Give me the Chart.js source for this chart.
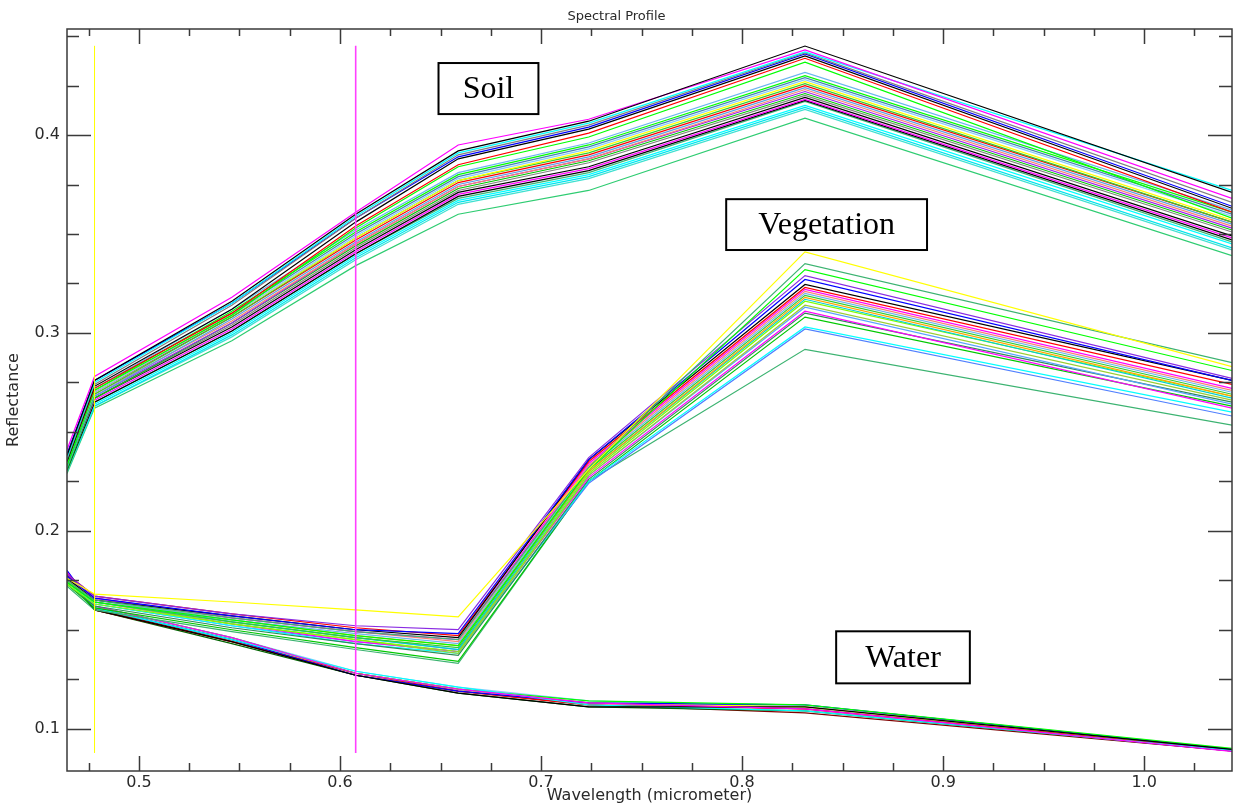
<!DOCTYPE html>
<html>
<head>
<meta charset="utf-8">
<title>Spectral Profile</title>
<script src="https://cdn.jsdelivr.net/npm/chart.js@4.4.0/dist/chart.umd.min.js"></script>
<style>
  html, body { margin: 0; padding: 0; background: #fff; }
  #wrap { position: relative; width: 1233px; height: 807px; }
</style>
</head>
<body>
<div id="wrap"><canvas id="profileChart"></canvas></div>
<script>
// band centres (micrometer)
const wavelengths = [0.4642, 0.4779, 0.5462, 0.6078, 0.6588, 0.7237, 0.8313, 1.0437];

// reflectance per pixel, one row per sampled pixel
const soilSpectra = [
  [0.238, 0.276, 0.316, 0.360, 0.392, 0.407, 0.445, 0.371],
  [0.241, 0.278, 0.318, 0.361, 0.395, 0.408, 0.443, 0.368],
  [0.237, 0.275, 0.315, 0.359, 0.391, 0.406, 0.442, 0.372],
  [0.236, 0.274, 0.314, 0.358, 0.390, 0.405, 0.4415, 0.366],
  [0.239, 0.276, 0.315, 0.358, 0.389, 0.404, 0.441, 0.364],
  [0.235, 0.273, 0.312, 0.356, 0.388, 0.403, 0.440, 0.363],
  [0.236, 0.272, 0.310, 0.354, 0.385, 0.401, 0.4388, 0.361],
  [0.233, 0.271, 0.309, 0.353, 0.384, 0.399, 0.4368, 0.358],
  [0.236, 0.272, 0.312, 0.352, 0.381, 0.396, 0.4317, 0.362],
  [0.235, 0.271, 0.311, 0.351, 0.380, 0.395, 0.430, 0.361],
  [0.237, 0.272, 0.310, 0.350, 0.379, 0.394, 0.429, 0.360],
  [0.234, 0.270, 0.309, 0.349, 0.378, 0.393, 0.428, 0.359],
  [0.236, 0.271, 0.309, 0.348, 0.377, 0.392, 0.427, 0.357],
  [0.233, 0.269, 0.308, 0.348, 0.377, 0.391, 0.426, 0.356],
  [0.235, 0.270, 0.308, 0.347, 0.376, 0.390, 0.425, 0.356],
  [0.232, 0.268, 0.307, 0.346, 0.375, 0.389, 0.424, 0.355],
  [0.234, 0.269, 0.306, 0.345, 0.374, 0.388, 0.423, 0.354],
  [0.233, 0.268, 0.305, 0.345, 0.374, 0.388, 0.422, 0.353],
  [0.231, 0.267, 0.305, 0.344, 0.373, 0.387, 0.421, 0.352],
  [0.232, 0.267, 0.304, 0.343, 0.372, 0.386, 0.420, 0.351],
  [0.233, 0.267, 0.303, 0.342, 0.371, 0.384, 0.419, 0.349],
  [0.232, 0.266, 0.302, 0.341, 0.370, 0.383, 0.418, 0.348],
  [0.231, 0.265, 0.301, 0.340, 0.369, 0.382, 0.4175, 0.347],
  [0.230, 0.265, 0.301, 0.340, 0.368, 0.381, 0.417, 0.346],
  [0.231, 0.264, 0.300, 0.339, 0.367, 0.380, 0.415, 0.345],
  [0.230, 0.263, 0.299, 0.338, 0.366, 0.379, 0.414, 0.343],
  [0.230, 0.263, 0.298, 0.337, 0.365, 0.378, 0.413, 0.342],
  [0.229, 0.262, 0.296, 0.334, 0.360, 0.372, 0.4085, 0.339]
];

const vegetationSpectra = [
  [0.176, 0.168, 0.164, 0.160, 0.1565, 0.231, 0.341, 0.283],
  [0.175, 0.165, 0.156, 0.149, 0.145, 0.232, 0.335, 0.285],
  [0.174, 0.164, 0.155, 0.147, 0.142, 0.231, 0.332, 0.281],
  [0.178, 0.167, 0.158, 0.152, 0.150, 0.237, 0.329, 0.277],
  [0.177, 0.166, 0.157, 0.150, 0.148, 0.236, 0.327, 0.276],
  [0.176, 0.165, 0.157, 0.150, 0.146, 0.236, 0.3245, 0.276],
  [0.178, 0.167, 0.158, 0.151, 0.147, 0.235, 0.323, 0.274],
  [0.177, 0.166, 0.156, 0.149, 0.145, 0.234, 0.322, 0.272],
  [0.175, 0.166, 0.156, 0.149, 0.144, 0.233, 0.321, 0.271],
  [0.176, 0.165, 0.155, 0.148, 0.143, 0.232, 0.320, 0.270],
  [0.174, 0.164, 0.154, 0.146, 0.141, 0.231, 0.319, 0.269],
  [0.175, 0.165, 0.155, 0.147, 0.142, 0.230, 0.318, 0.268],
  [0.176, 0.164, 0.154, 0.146, 0.140, 0.230, 0.317, 0.267],
  [0.173, 0.163, 0.153, 0.145, 0.139, 0.229, 0.316, 0.268],
  [0.174, 0.164, 0.153, 0.145, 0.138, 0.228, 0.314, 0.266],
  [0.175, 0.165, 0.154, 0.146, 0.140, 0.228, 0.313, 0.264],
  [0.176, 0.164, 0.153, 0.144, 0.139, 0.227, 0.311, 0.262],
  [0.173, 0.162, 0.151, 0.143, 0.137, 0.226, 0.310, 0.265],
  [0.174, 0.163, 0.152, 0.143, 0.138, 0.225, 0.303, 0.260],
  [0.175, 0.163, 0.152, 0.144, 0.139, 0.224, 0.302, 0.258],
  [0.173, 0.161, 0.150, 0.141, 0.134, 0.225, 0.308, 0.263],
  [0.172, 0.160, 0.149, 0.140, 0.133, 0.225, 0.2917, 0.2534]
];

const waterSpectra = [
  [0.179, 0.162, 0.146, 0.128, 0.120, 0.113, 0.110, 0.0885],
  [0.178, 0.160, 0.144, 0.127, 0.118, 0.111, 0.111, 0.0895],
  [0.177, 0.161, 0.145, 0.129, 0.121, 0.112, 0.109, 0.0890],
  [0.178, 0.162, 0.146, 0.128, 0.120, 0.114, 0.112, 0.0900],
  [0.180, 0.161, 0.145, 0.127, 0.119, 0.113, 0.112, 0.0895],
  [0.179, 0.160, 0.144, 0.128, 0.119, 0.112, 0.110, 0.0890],
  [0.178, 0.161, 0.145, 0.128, 0.120, 0.113, 0.111, 0.0892],
  [0.177, 0.160, 0.143, 0.127, 0.118, 0.111, 0.109, 0.0888],
  [0.178, 0.162, 0.146, 0.129, 0.121, 0.114, 0.111, 0.0893],
  [0.179, 0.161, 0.144, 0.127, 0.119, 0.112, 0.108, 0.0887],
  [0.176, 0.160, 0.145, 0.128, 0.120, 0.113, 0.110, 0.0891],
  [0.177, 0.161, 0.145, 0.128, 0.120, 0.113, 0.110, 0.0886]
];

// display bands (blue / yellow) shown as vertical bars
const bandMarkers = [0.4779, 0.6078];
const markerSpan = [0.0877, 0.4451];

const xTickValues = [0.5, 0.6, 0.7, 0.8, 0.9, 1.0];
const yTickValues = [0.1, 0.2, 0.3, 0.4];

// line colours, cycled per group
const soilColors = ['#000000', '#ff00ff', '#00ffff', '#808080', '#0000ff', '#000000', '#ff0000', '#00ff00',
  '#6cb4ee', '#00ff00', '#4682b4', '#87cefa', '#ffff00', '#32cd32', '#ff0000', '#5aa0e6', '#fa8072', '#a020f0',
  '#00c800', '#808080', '#000000', '#ff00ff', '#000000', '#3cb371', '#00ffff', '#00e5ee', '#40e0d0', '#2ecc71'];
const vegColors = ['#ffff00', '#3cb371', '#00ff00', '#8a2be2', '#0000ff', '#000000', '#ff0000', '#ff00ff',
  '#fa8072', '#6cb4ee', '#32cd32', '#ffa500', '#00ced1', '#7fff00', '#9acd32', '#5aa0ff', '#ff00ff', '#2e8b57',
  '#00ffff', '#4f7fff', '#00c800', '#3cb371'];
const waterColors = ['#ff00ff', '#000000', '#00ffff', '#00ff00', '#0000ff', '#ff0000', '#ffff00', '#006400',
  '#87cefa', '#800000', '#3cb371', '#ff69b4'];
const markerColors = ['#ffff00', '#ff40ff'];

const labelBoxes = [
  { text: 'Soil', x0: 0.649, x1: 0.6987, y0: 0.4364, y1: 0.4106 },
  { text: 'Vegetation', x0: 0.7921, x1: 0.8920, y0: 0.3676, y1: 0.3419 },
  { text: 'Water', x0: 0.8468, x1: 0.9133, y0: 0.1492, y1: 0.1229 }
];

const AXIS_COLOR = '#3a3a3a';
const TEXT_COLOR = '#2a2a2a';
const SANS = '"DejaVu Sans", sans-serif';

function toPoints(values) {
  return values.map((v, i) => ({ x: wavelengths[i], y: v }));
}

const datasets = [];
bandMarkers.forEach((w, i) => {
  datasets.push({
    data: [{ x: w, y: markerSpan[0] }, { x: w, y: markerSpan[1] }],
    borderColor: markerColors[i],
    borderWidth: i === 0 ? 1 : 1.6,
    order: 0
  });
});
[[soilSpectra, soilColors], [vegetationSpectra, vegColors], [waterSpectra, waterColors]].forEach(([rows, colors]) => {
  rows.forEach((row, i) => {
    datasets.push({
      data: toPoints(row),
      borderColor: colors[i % colors.length],
      borderWidth: 1.2,
      order: 1
    });
  });
});

// frame, inward ticks on all four sides, titles and the class boxes
const profileFrame = {
  id: 'profileFrame',
  afterDraw(chart) {
    const { ctx, chartArea: a, scales: { x, y } } = chart;
    ctx.save();
    ctx.strokeStyle = AXIS_COLOR;
    ctx.lineWidth = 1.5;
    ctx.strokeRect(a.left, a.top, a.right - a.left, a.bottom - a.top);

    ctx.beginPath();
    for (let v = 0.475; v < x.max; v += 0.025) {
      const px = Math.round(x.getPixelForValue(v)) + 0.5;
      const major = xTickValues.some(t => Math.abs(t - v) < 1e-6);
      ctx.moveTo(px, a.bottom); ctx.lineTo(px, a.bottom - (major ? 15 : 8));
      ctx.moveTo(px, a.top); ctx.lineTo(px, a.top + (major ? 15 : 7));
    }
    for (let v = 0.1; v < y.max; v += 0.025) {
      const py = Math.round(y.getPixelForValue(v)) + 0.5;
      const major = yTickValues.some(t => Math.abs(t - v) < 1e-6);
      ctx.moveTo(a.left, py); ctx.lineTo(a.left + (major ? 24 : 12), py);
      ctx.moveTo(a.right, py); ctx.lineTo(a.right - (major ? 24 : 13), py);
    }
    ctx.stroke();

    ctx.fillStyle = TEXT_COLOR;
    ctx.textAlign = 'center';
    ctx.textBaseline = 'middle';
    ctx.font = '13px ' + SANS;
    ctx.fillText('Spectral Profile', chart.width / 2, 17);
    ctx.font = '16px ' + SANS;
    ctx.fillText('Wavelength (micrometer)', (a.left + a.right) / 2, 796);
    ctx.save();
    ctx.translate(14, (a.top + a.bottom) / 2);
    ctx.rotate(-Math.PI / 2);
    ctx.fillText('Reflectance', 0, 0);
    ctx.restore();

    ctx.font = '32px "Liberation Serif", "Times New Roman", serif';
    labelBoxes.forEach(b => {
      const l = x.getPixelForValue(b.x0), r = x.getPixelForValue(b.x1);
      const t = y.getPixelForValue(b.y0), btm = y.getPixelForValue(b.y1);
      ctx.fillStyle = '#ffffff';
      ctx.fillRect(l, t, r - l, btm - t);
      ctx.strokeStyle = '#000000';
      ctx.lineWidth = 2;
      ctx.strokeRect(l, t, r - l, btm - t);
      ctx.fillStyle = '#000000';
      ctx.fillText(b.text, (l + r) / 2, (t + btm) / 2 + 1);
    });
    ctx.restore();
  }
};

new Chart(document.getElementById('profileChart'), {
  type: 'line',
  data: { datasets },
  options: {
    responsive: true,
    maintainAspectRatio: false,
    animation: false,
    events: [],
    layout: { padding: { top: 29, right: 1, left: 0, bottom: 0 } },
    elements: { point: { radius: 0 }, line: { tension: 0 } },
    plugins: { legend: { display: false }, tooltip: { enabled: false } },
    scales: {
      x: {
        type: 'linear',
        min: 0.4642,
        max: 1.0437,
        grid: { display: false, drawTicks: false },
        border: { display: false },
        afterBuildTicks: s => { s.ticks = xTickValues.map(v => ({ value: v })); },
        afterFit: s => { s.height = 36; },
        ticks: {
          padding: 2, autoSkip: false, maxRotation: 0, color: TEXT_COLOR,
          font: { family: SANS, size: 16 },
          callback: v => v.toFixed(1)
        }
      },
      y: {
        type: 'linear',
        min: 0.0786,
        max: 0.4536,
        grid: { display: false, drawTicks: false },
        border: { display: false },
        afterBuildTicks: s => { s.ticks = yTickValues.map(v => ({ value: v })); },
        afterFit: s => { s.width = 67; },
        ticks: {
          padding: 7, color: TEXT_COLOR,
          font: { family: SANS, size: 16 },
          callback: v => v.toFixed(1)
        }
      }
    }
  },
  plugins: [profileFrame]
});
</script>
</body>
</html>
